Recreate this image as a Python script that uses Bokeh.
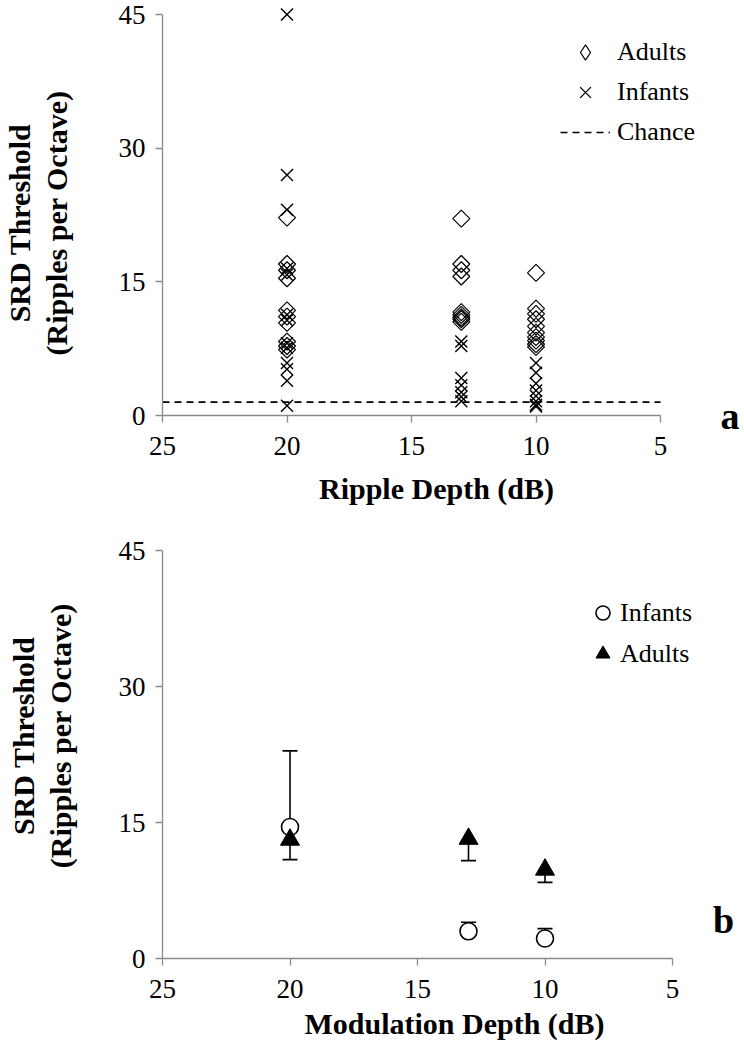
import numpy as np
from bokeh.plotting import figure
from bokeh.layouts import column
from bokeh.models import Range1d, FixedTicker, Legend, LegendItem, Label, LinearAxis
from bokeh.embed import file_html
from bokeh.resources import INLINE

# ---------------- data ----------------
x_ticks = [25, 20, 15, 10, 5]
y_ticks = [0, 15, 30, 45]
chance_level = 1.5

# panel a : individual thresholds (ripples per octave) by ripple depth (dB)
adults_20 = [22.2, 17.0, 16.3, 15.4, 11.8, 11.1, 10.4, 8.3, 7.8, 7.4]
infants_20 = [45.0, 27.0, 23.1, 16.5, 15.8, 11.3, 10.7, 8.1, 7.6, 5.9, 5.2, 3.9, 1.1]
adults_13 = [22.1, 17.0, 16.3, 15.6, 11.6, 11.3, 11.0, 10.8, 10.5]
infants_13 = [8.3, 7.8, 4.2, 3.4, 2.6, 2.1, 1.6]
adults_10 = [16.0, 12.0, 11.4, 10.8, 10.0, 9.3, 8.8, 8.4, 8.0, 7.7]
infants_10 = [5.9, 4.8, 3.6, 2.8, 2.2, 1.6, 1.2, 1.0]

# panel b : group means with one-sided error bars
depths_b = [20, 13, 10]
infant_mean = [14.5, 3.0, 2.2]
infant_upper = [22.9, 4.0, 3.3]
adult_mean = [13.1, 13.2, 9.8]
adult_lower = [10.9, 10.8, 8.4]

SERIF = "Liberation Serif"
AXIS_GRAY = "#8a8a8a"
NB = "\u00a0"


def style(p, xlabel, ylabel, ystand, xstand):
    p.outline_line_color = None
    p.xgrid.visible = False
    p.ygrid.visible = False
    p.background_fill_color = "white"
    p.border_fill_color = "white"
    for ax in (p.xaxis[0], p.yaxis[0]):
        ax.axis_line_color = AXIS_GRAY
        ax.axis_line_width = 1.3
        ax.major_tick_line_color = AXIS_GRAY
        ax.major_tick_line_width = 1.3
        ax.major_tick_in = 0
        ax.major_tick_out = 7
        ax.minor_tick_line_color = None
        ax.major_label_text_font = SERIF
        ax.major_label_text_font_size = "27px"
        ax.major_label_text_color = "black"
        ax.axis_label_text_font = SERIF
        ax.axis_label_text_font_style = "bold"
        ax.axis_label_text_font_size = "30px"
        ax.axis_label_text_color = "black"
        ax.axis_label_text_line_height = 1.1
    p.xaxis[0].ticker = FixedTicker(ticks=x_ticks)
    p.yaxis[0].ticker = FixedTicker(ticks=y_ticks)
    p.xaxis[0].bounds = (min(x_ticks), max(x_ticks))
    p.yaxis[0].bounds = (min(y_ticks), max(y_ticks))
    p.xaxis[0].axis_label = xlabel
    p.yaxis[0].axis_label = ylabel
    p.xaxis[0].major_label_standoff = 14
    p.yaxis[0].major_label_standoff = 10
    p.yaxis[0].axis_label_standoff = ystand
    p.xaxis[0].axis_label_standoff = xstand


# ---------------- panel a ----------------
# frame: x=25 at left edge, 24.9 px per dB; y=0 at bottom, 45 about 14 px below top
pa = figure(frame_width=548, frame_height=415,
            x_range=Range1d(25, 25 - 548 / 24.9), y_range=Range1d(0, 45 + 14 / 8.91),
            output_backend="svg", toolbar_location=None,
            min_border_left=156, min_border_right=28, min_border_top=0, min_border_bottom=100)
style(pa, "Ripple Depth (dB)",
      "SRD Threshold" + NB * 4 + "\n(Ripples per Octave)" + NB * 4, 43, 14)

ax_ = [20] * len(adults_20) + [13] * len(adults_13) + [10] * len(adults_10)
ay_ = adults_20 + adults_13 + adults_10
ix_ = [20] * len(infants_20) + [13] * len(infants_13) + [10] * len(infants_10)
iy_ = infants_20 + infants_13 + infants_10

pa.scatter(ax_, ay_, marker="square", angle=np.pi / 4, size=12,
           fill_color=None, line_color="black", line_width=1.2)
r_in = pa.scatter(ix_, iy_, marker="x", size=17, line_color="black", line_width=1.4)
r_ch = pa.line([max(x_ticks), min(x_ticks)], [chance_level, chance_level],
               line_color="black", line_width=1.6, line_dash="7 5")
# hidden copy of the adult points, used only for an upright diamond legend swatch
r_ad_leg = pa.scatter(ax_, ay_, marker="diamond", size=12, visible=False,
                      fill_color=None, line_color="black", line_width=1.2)

leg_a = Legend(items=[LegendItem(label="Adults", renderers=[r_ad_leg]),
                      LegendItem(label="Infants", renderers=[r_in]),
                      LegendItem(label="Chance", renderers=[r_ch])],
               location=(398, 264), orientation="vertical",
               glyph_width=50, glyph_height=38, label_height=30, spacing=2,
               label_standoff=7, padding=0, margin=0,
               inactive_fill_alpha=0,
               border_line_color=None, background_fill_alpha=0,
               label_text_font=SERIF, label_text_font_size="26px", label_text_color="black")
pa.add_layout(leg_a)

# panel letter "a" beside the x axis, drawn as the only label of a bare right-hand axis
tag_a = LinearAxis(ticker=FixedTicker(ticks=[y_ticks[0]]),
                   major_label_overrides={y_ticks[0]: "a"},
                   axis_line_color=None, major_tick_line_color=None,
                   minor_tick_line_color=None, major_label_standoff=4,
                   major_label_text_font=SERIF, major_label_text_font_style="bold",
                   major_label_text_font_size="38px", major_label_text_color="black")
pa.add_layout(tag_a, "right")

# ---------------- panel b ----------------
pb = figure(frame_width=584, frame_height=408,
            x_range=Range1d(25, 25 - 584 / 25.5), y_range=Range1d(0, 45),
            output_backend="svg", toolbar_location=None,
            min_border_left=152, min_border_right=0, min_border_top=35, min_border_bottom=90)
style(pb, "Modulation Depth (dB)",
      NB * 5 + "SRD Threshold\n" + NB * 5 + "(Ripples per Octave)", 39, 6)

pb.segment(depths_b, infant_mean, depths_b, infant_upper, line_color="black", line_width=1.6)
pb.segment(depths_b, adult_mean, depths_b, adult_lower, line_color="black", line_width=1.6)
pb.scatter(depths_b, infant_upper, marker="dash", size=15, line_color="black", line_width=1.6)
pb.scatter(depths_b, adult_lower, marker="dash", size=15, line_color="black", line_width=1.6)
r_inb = pb.scatter(depths_b, infant_mean, marker="circle", size=17,
                   fill_color="white", line_color="black", line_width=1.6)
r_adb = pb.scatter(depths_b, adult_mean, marker="triangle", size=19,
                   fill_color="black", line_color="black", line_width=1)

leg_b = Legend(items=[LegendItem(label="Infants", renderers=[r_inb]),
                      LegendItem(label="Adults", renderers=[r_adb])],
               location=(427, 287), orientation="vertical",
               glyph_width=35, glyph_height=35, label_height=35, spacing=6,
               label_standoff=0, padding=0, margin=0,
               border_line_color=None, background_fill_alpha=0,
               label_text_font=SERIF, label_text_font_size="26px", label_text_color="black")
pb.add_layout(leg_b)

pb.add_layout(Label(x=3.0, y=4.3, text="b", text_font=SERIF, text_font_style="bold",
                    text_font_size="38px", text_align="center", text_baseline="middle",
                    text_color="black"))

layout = column(pa, pb, spacing=0)
open("out.html", "w").write(file_html(layout, INLINE))
